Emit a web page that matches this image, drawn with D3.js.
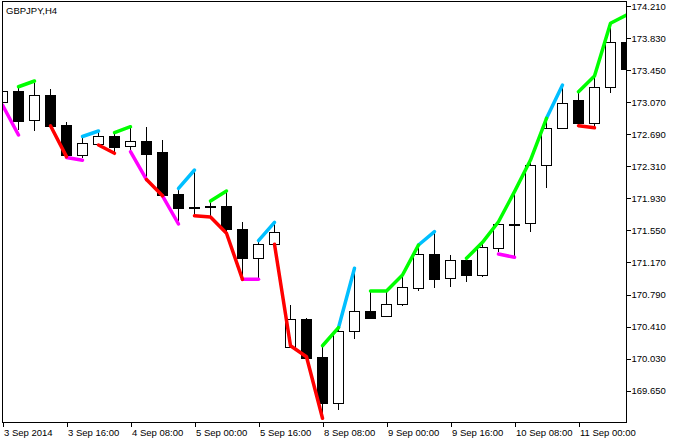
<!DOCTYPE html>
<html>
<head>
<meta charset="utf-8">
<script src="https://cdn.jsdelivr.net/npm/d3@7"></script>
<style>
    body { margin: 0; background: #fff; }
    text { font-family: "Liberation Sans", Arial, sans-serif; font-size: 9.5px; fill: #000; }
</style>
</head>
<body>
<svg id="chart"></svg>
<script>
// GBPJPY H4 candles, one entry per bar
var opens = [173.076, 173.206, 172.853, 173.155, 172.796, 172.447, 172.580, 172.669, 172.547, 172.610,
    172.479, 171.981, 171.831, 171.839, 171.839, 171.567, 171.219, 171.385, 170.171, 170.500,
    170.047, 169.500, 170.352, 170.595, 170.532, 170.674, 170.864, 171.267, 170.980, 171.196,
    171.027, 171.345, 171.629, 171.634, 172.322, 172.760, 173.096, 172.820, 173.246, 173.780];
var highs = [173.226, 173.246, 173.294, 173.226, 172.838, 172.657, 172.725, 172.710, 172.778, 172.778,
    172.622, 172.049, 172.266, 171.904, 172.017, 171.646, 171.430, 171.646, 170.666, 170.508,
    170.180, 170.397, 171.101, 170.832, 170.832, 171.021, 171.377, 171.535, 171.258, 171.219,
    171.409, 171.653, 172.009, 172.384, 172.879, 173.274, 173.175, 173.380, 174.005, 174.064];
var lows = [173.060, 172.740, 172.732, 172.782, 172.420, 172.405, 172.556, 172.464, 172.483, 172.165,
    171.958, 171.661, 171.727, 171.712, 171.519, 170.980, 170.980, 171.383, 170.168, 170.037,
    169.326, 169.421, 170.263, 170.494, 170.529, 170.657, 170.835, 170.864, 170.883, 170.942,
    171.001, 171.290, 171.231, 171.527, 172.056, 172.748, 172.799, 172.767, 173.175, 173.372];
var closes = [173.206, 172.850, 173.151, 172.791, 172.444, 172.582, 172.667, 172.542, 172.607, 172.459,
    171.973, 171.815, 171.829, 171.839, 171.563, 171.219, 171.385, 171.527, 170.496, 170.041,
    169.500, 170.357, 170.595, 170.515, 170.674, 170.875, 171.267, 170.977, 171.196, 171.025,
    171.350, 171.622, 171.629, 172.322, 172.760, 173.057, 172.827, 173.246, 173.780, 173.460];

// indicator segments: [first bar, values...]
var limeSegs = [
    [1, [173.253, 173.321]],
    [7, [172.710, 172.779]],
    [13, [171.898, 172.017]],
    [20, [170.183, 170.397]],
    [23, [170.832, 170.832, 171.021, 171.377]],
    [29, [171.219, 171.409, 171.653, 172.009, 172.384, 172.879]],
    [36, [173.194, 173.380, 174.005, 174.103]]
];
var skySegs = [
    [5, [172.663, 172.728]],
    [11, [172.047, 172.266]],
    [16, [171.430, 171.646]],
    [21, [170.397, 171.101]],
    [26, [171.377, 171.535]],
    [34, [172.879, 173.274]]
];
var redSegs = [
    [3, [172.791, 172.424]],
    [6, [172.562, 172.464]],
    [9, [172.153, 171.960]],
    [12, [171.724, 171.709, 171.516, 170.970]],
    [17, [171.385, 170.183, 170.053, 169.323]],
    [36, [172.791, 172.767]]
];
var magentaSegs = [
    [0, [173.036, 172.681]],
    [4, [172.414, 172.381]],
    [8, [172.483, 172.153]],
    [10, [171.958, 171.626]],
    [15, [170.970, 170.970]],
    [31, [171.270, 171.231]]
];

var yTicks = [174.21, 173.83, 173.45, 173.07, 172.69, 172.31, 171.93, 171.55, 171.17, 170.79, 170.41, 170.03, 169.65];
var xTickBars = [0, 4, 8, 12, 16, 20, 24, 28, 32, 36];
var xTickLabels = ["3 Sep 2014", "3 Sep 16:00", "4 Sep 08:00", "5 Sep 00:00", "5 Sep 16:00",
    "8 Sep 08:00", "9 Sep 00:00", "9 Sep 16:00", "10 Sep 08:00", "11 Sep 00:00"];

var width = 679, height = 443;
var plotL = 2.5, plotR = 626.5, plotT = 1.5, plotB = 422.5;

var svg = d3.select("#chart")
    .attr("width", width)
    .attr("height", height);

var x = d3.scaleLinear().domain([0, 39]).range([2.5, 626.5]);
var y = d3.scaleLinear().domain([169.65, 174.21]).range([390.7, 6]);

svg.append("defs").append("clipPath")
    .attr("id", "plotclip")
    .append("rect")
    .attr("x", plotL)
    .attr("y", plotT)
    .attr("width", plotR - plotL)
    .attr("height", plotB - plotT);

var plot = svg.append("g").attr("clip-path", "url(#plotclip)");

// candles
var candles = plot.append("g")
    .attr("class", "candles")
    .style("shape-rendering", "crispEdges");

for (var i = 0; i < opens.length; i++) {
    var cx = x(i);
    var bull = closes[i] >= opens[i];
    candles.append("line")
        .attr("x1", cx).attr("x2", cx)
        .attr("y1", y(highs[i])).attr("y2", y(lows[i]))
        .attr("stroke", "#000")
        .attr("stroke-width", 1);
    var yTop = Math.round(y(Math.max(opens[i], closes[i])));
    var yBot = Math.round(y(Math.min(opens[i], closes[i])));
    candles.append("rect")
        .attr("x", cx - 5)
        .attr("y", yTop + 0.5)
        .attr("width", 10)
        .attr("height", Math.max(1, yBot - yTop))
        .attr("fill", bull ? "#fff" : "#000")
        .attr("stroke", "#000")
        .attr("stroke-width", 1);
}

// indicator lines
var line = d3.line()
    .x(function (d) { return x(d[0]); })
    .y(function (d) { return y(d[1]); });

function drawSegs(segs, color) {
    segs.forEach(function (s) {
        var pts = s[1].map(function (v, k) { return [s[0] + k, v]; });
        plot.append("path")
            .attr("d", line(pts))
            .attr("fill", "none")
            .attr("stroke", color)
            .attr("stroke-width", 3.5)
            .attr("stroke-linejoin", "round")
            .attr("stroke-linecap", "round");
    });
}
drawSegs(magentaSegs, "#ff00ff");
drawSegs(redSegs, "#ff0000");
drawSegs(skySegs, "#00bfff");
drawSegs(limeSegs, "#00ff00");

// frame
svg.append("rect")
    .attr("x", plotL)
    .attr("y", plotT)
    .attr("width", plotR - plotL)
    .attr("height", plotB - plotT)
    .attr("fill", "none")
    .attr("stroke", "#000")
    .style("shape-rendering", "crispEdges");

// price axis
var yAxis = d3.axisRight(y)
    .tickValues(yTicks)
    .tickSize(4)
    .tickSizeOuter(0)
    .tickPadding(1)
    .tickFormat(d3.format(".3f"));
var gy = svg.append("g")
    .attr("transform", "translate(" + plotR + ",0)")
    .style("shape-rendering", "crispEdges")
    .call(yAxis);
gy.select(".domain").remove();
gy.selectAll("text").attr("font-size", null).attr("font-family", null);

// time axis
var xAxis = d3.axisBottom(x)
    .tickValues(xTickBars)
    .tickSize(4)
    .tickSizeOuter(0)
    .tickFormat(function (d, k) { return xTickLabels[k]; });
var gx = svg.append("g")
    .attr("transform", "translate(0," + plotB + ")")
    .style("shape-rendering", "crispEdges")
    .call(xAxis);
gx.select(".domain").remove();
gx.selectAll("text")
    .attr("text-anchor", "start")
    .attr("x", 1)
    .attr("font-size", null).attr("font-family", null);

svg.append("text")
    .attr("x", 6)
    .attr("y", 13.5)
    .text("GBPJPY,H4");
</script>
</body>
</html>
